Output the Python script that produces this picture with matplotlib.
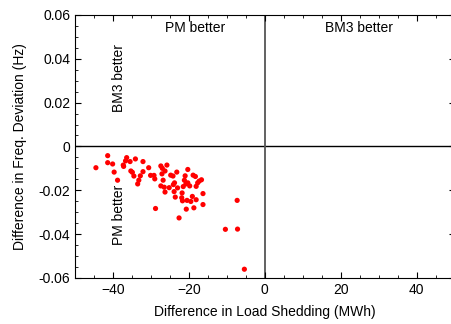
import matplotlib
matplotlib.use('Agg')
import matplotlib.pyplot as plt
import numpy as np
from matplotlib.ticker import MultipleLocator

plt.rcParams['font.family'] = ['Liberation Sans', 'DejaVu Sans']

# difference in load shedding (MWh) and difference in freq. deviation (Hz)
shed_diff = [-44.5, -41.4, -41.4, -40.1, -39.7, -38.8, -37.2, -37.3, -36.7, -36.4,
             -35.5, -35.3, -34.9, -34.5, -34.1, -33.5, -33.2, -32.8, -32.1, -32.1,
             -30.6, -30.1, -29.2, -29.0, -28.8, -27.4, -27.1, -27.4, -27.0, -26.8,
             -26.5, -26.3, -26.3, -25.8, -25.2, -24.8, -24.2, -24.1, -23.9, -23.8,
             -23.6, -23.2, -23.0, -22.6, -21.9, -21.8, -21.7, -21.5, -21.2, -21.0,
             -20.8, -20.7, -20.5, -20.3, -20.3, -19.8, -19.5, -19.1, -18.9, -18.7,
             -18.3, -18.1, -18.1, -17.7, -17.3, -16.7, -16.3, -16.3, -10.4, -7.3,
             -7.2, -5.4]
freq_diff = [-0.0097, -0.0042, -0.0074, -0.0080, -0.0117, -0.0154, -0.0091, -0.0085, -0.0066, -0.0051,
             -0.0069, -0.0112, -0.0118, -0.0135, -0.0057, -0.0171, -0.0154, -0.0134, -0.0069, -0.0115,
             -0.0097, -0.0132, -0.0132, -0.0148, -0.0283, -0.0089, -0.0125, -0.0180, -0.0100, -0.0154,
             -0.0186, -0.0208, -0.0112, -0.0085, -0.0188, -0.0131, -0.0135, -0.0174, -0.0206, -0.0166,
             -0.0231, -0.0117, -0.0189, -0.0326, -0.0234, -0.0212, -0.0248, -0.0183, -0.0154, -0.0134,
             -0.0171, -0.0286, -0.0246, -0.0105, -0.0166, -0.0180, -0.0251, -0.0228, -0.0131, -0.0280,
             -0.0137, -0.0243, -0.0182, -0.0166, -0.0158, -0.0152, -0.0215, -0.0265, -0.0378, -0.0246,
             -0.0377, -0.0560]

fig = plt.figure(figsize=(4.52, 3.24), dpi=100)
ax = fig.add_axes([0.166, 0.142, 0.840, 0.812])
# the original is cropped just before its right spine
ax.spines['right'].set_visible(False)

ax.axhline(0, color='black', linewidth=1.0, zorder=1)
ax.axvline(0, color='#555555', linewidth=1.3, zorder=1)
ax.scatter(shed_diff, freq_diff, s=14, color='red', edgecolors='none', zorder=3)

ax.text(-18.3, 0.054, 'PM better', ha='center', va='center', fontsize=10)
ax.text(24.7, 0.054, 'BM3 better', ha='center', va='center', fontsize=10)
ax.text(-38.5, 0.031, 'BM3 better', ha='center', va='center', rotation=90, fontsize=10)
ax.text(-38.5, -0.031, 'PM better', ha='center', va='center', rotation=90, fontsize=10)

ax.set_xlim(-50, 50)
ax.set_ylim(-0.06, 0.06)
ax.xaxis.set_major_locator(MultipleLocator(20))
ax.xaxis.set_minor_locator(MultipleLocator(5))
ax.yaxis.set_minor_locator(MultipleLocator(0.005))
ax.set_yticks([-0.06, -0.04, -0.02, 0, 0.02, 0.04, 0.06])
ax.set_yticklabels(['-0.06', '-0.04', '-0.02', '0', '0.02', '0.04', '0.06'])
ax.tick_params(which='both', direction='in', top=True, right=True, labelsize=10)
ax.tick_params(which='major', length=4)
ax.tick_params(which='minor', length=2)

ax.set_xlabel('Difference in Load Shedding (MWh)', fontsize=10, labelpad=6)
ax.set_ylabel('Difference in Freq. Deviation (Hz)', fontsize=10, labelpad=8)

fig.savefig('out.png', dpi=100)
